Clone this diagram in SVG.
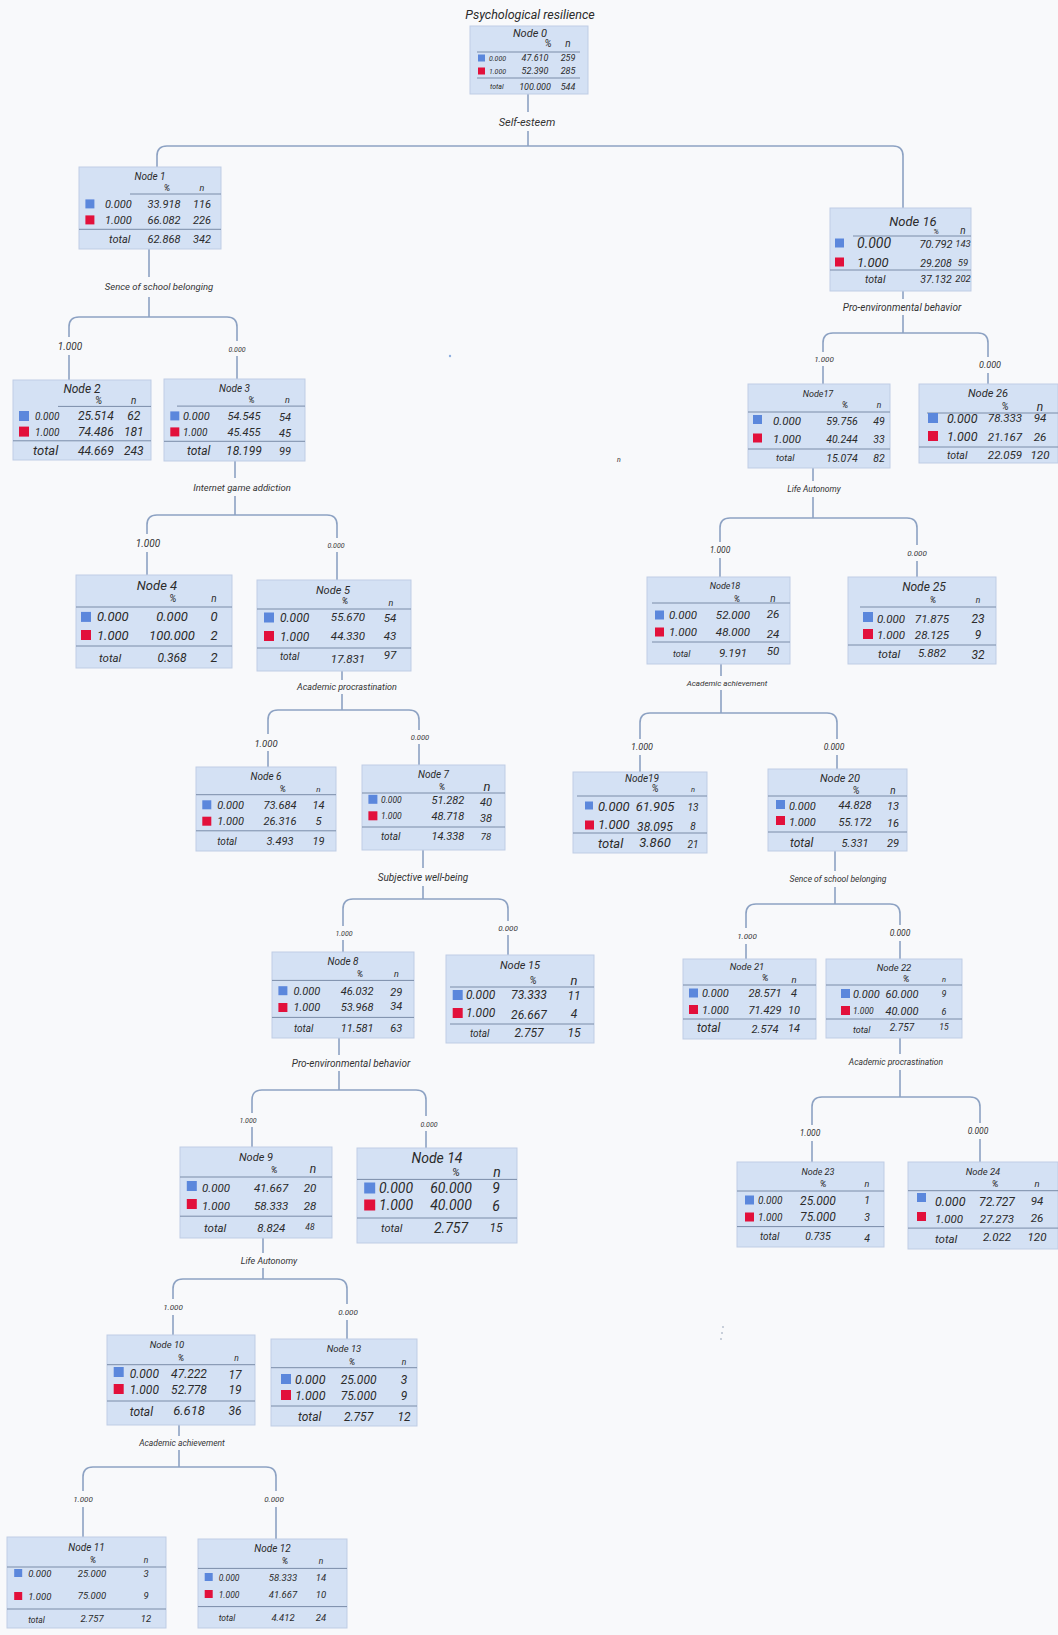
<svg xmlns="http://www.w3.org/2000/svg" width="1058" height="1635" viewBox="0 0 1058 1635">
<style>
text{font-family:Roboto,"Noto Sans","DejaVu Sans",sans-serif;font-style:italic;fill:#2b2b2b}
.m{text-anchor:middle}
.box{fill:#d4e1f4;stroke:#bfcde5;stroke-width:1}
.sep{stroke:#7a8ca8;stroke-width:1}
.conn{fill:none;stroke:#8da2c3;stroke-width:1.6}
.b0{fill:#5b87dc}
.b1{fill:#e2103b}
.lab{fill:#333}
</style>
<rect width="1058" height="1635" fill="#f8f9fb"/>
<text class="m" x="530" y="19" font-size="12.5">Psychological resilience</text>

<g id="connectors">
<path class="conn" d="M528 94 V112 M528 131 V146 M157 167 V156 Q157 146 167 146 H893 Q903 146 903 156 V208"/>
<path class="conn" d="M149 249 V277 M149 297 V317 M69 337 V327 Q69 317 79 317 H227 Q237 317 237 327 V341 M69 355 V380 M237 356 V379"/>
<path class="conn" d="M235 461 V478 M235 496 V515 M147 534 V525 Q147 515 157 515 H327 Q337 515 337 525 V538 M147 552 V575 M337 552 V580"/>
<path class="conn" d="M342 671 V680 M342 694 V710 M268 734 V720 Q268 710 278 710 H409 Q419 710 419 720 V730 M268 751 V767 M419 744 V765"/>
<path class="conn" d="M423 850 V868 M423 886 V899 M343 926 V909 Q343 899 353 899 H498 Q508 899 508 909 V921 M343 940 V952 M508 935 V955"/>
<path class="conn" d="M339 1038 V1055 M339 1071 V1090 M252 1113 V1100 Q252 1090 262 1090 H416 Q426 1090 426 1100 V1116 M252 1127 V1147 M426 1131 V1148"/>
<path class="conn" d="M263 1238 V1253 M263 1268 V1279 M173 1299 V1289 Q173 1279 183 1279 H337 Q347 1279 347 1289 V1304 M173 1315 V1335 M347 1320 V1339"/>
<path class="conn" d="M179 1425 V1436 M179 1450 V1467 M83 1491 V1477 Q83 1467 93 1467 H266 Q276 1467 276 1477 V1491 M83 1507 V1537 M276 1507 V1539"/>
<path class="conn" d="M903 291 V299 M903 315 V333 M823 352 V343 Q823 333 833 333 H978 Q988 333 988 343 V357 M823 366 V384 M988 373 V384"/>
<path class="conn" d="M813 468 V481 M813 497 V518 M720 542 V528 Q720 518 730 518 H907 Q917 518 917 528 V545 M720 558 V577 M917 561 V577"/>
<path class="conn" d="M721 664 V676 M721 690 V713 M640 739 V723 Q640 713 650 713 H827 Q837 713 837 723 V739 M640 755 V772 M837 755 V769"/>
<path class="conn" d="M835 851 V871 M835 887 V904 M746 928 V914 Q746 904 756 904 H890 Q900 904 900 914 V925 M746 944 V959 M900 941 V959"/>
<path class="conn" d="M900 1038 V1054 M900 1070 V1097 M812 1125 V1107 Q812 1097 822 1097 H970 Q980 1097 980 1107 V1123 M812 1141 V1162 M980 1139 V1162"/>
<text class="m lab" x="527" y="126" font-size="11">Self-esteem</text>
<text class="m lab" x="159" y="290" font-size="9.5">Sence of school belonging</text>
<text class="m lab" x="70" y="349.5" font-size="10">1.000</text>
<text class="m lab" x="237" y="351.5" font-size="7">0.000</text>
<text class="m lab" x="242" y="490.5" font-size="9.5">Internet game addiction</text>
<text class="m lab" x="148" y="546.5" font-size="10">1.000</text>
<text class="m lab" x="336" y="547.5" font-size="7">0.000</text>
<text class="m lab" x="347" y="690" font-size="9">Academic procrastination</text>
<text class="m lab" x="266" y="746.5" font-size="9.5">1.000</text>
<text class="m lab" x="420" y="739.5" font-size="7.5">0.000</text>
<text class="m lab" x="423" y="880.5" font-size="10">Subjective well-being</text>
<text class="m lab" x="344" y="935.5" font-size="7">1.000</text>
<text class="m lab" x="508" y="931" font-size="8">0.000</text>
<text class="m lab" x="351" y="1066.5" font-size="10">Pro-environmental behavior</text>
<text class="m lab" x="248" y="1122.5" font-size="7">1.000</text>
<text class="m lab" x="429" y="1126.5" font-size="7">0.000</text>
<text class="m lab" x="269" y="1264" font-size="9">Life Autonomy</text>
<text class="m lab" x="173" y="1310" font-size="8">1.000</text>
<text class="m lab" x="348" y="1315" font-size="8">0.000</text>
<text class="m lab" x="182" y="1446" font-size="8.5">Academic achievement</text>
<text class="m lab" x="83" y="1502" font-size="8">1.000</text>
<text class="m lab" x="274" y="1502" font-size="8">0.000</text>
<text class="m lab" x="902" y="310.5" font-size="10">Pro-environmental behavior</text>
<text class="m lab" x="824" y="362" font-size="8">1.000</text>
<text class="m lab" x="990" y="368" font-size="9">0.000</text>
<text class="m lab" x="814" y="492" font-size="8.5">Life Autonomy</text>
<text class="m lab" x="720" y="553" font-size="8.5">1.000</text>
<text class="m lab" x="917" y="556" font-size="8">0.000</text>
<text class="m lab" x="727" y="686" font-size="8">Academic achievement</text>
<text class="m lab" x="642" y="750" font-size="9">1.000</text>
<text class="m lab" x="834" y="750" font-size="8.5">0.000</text>
<text class="m lab" x="838" y="882" font-size="8.5">Sence of school belonging</text>
<text class="m lab" x="747" y="939" font-size="8">1.000</text>
<text class="m lab" x="900" y="936" font-size="8.5">0.000</text>
<text class="m lab" x="896" y="1065" font-size="8.5">Academic procrastination</text>
<text class="m lab" x="810" y="1136" font-size="8.5">1.000</text>
<text class="m lab" x="978" y="1134" font-size="8.5">0.000</text>
</g>

<g id="node0" transform="translate(470,26)" font-size="9">
<rect class="box" width="118" height="68"/>
<text class="m" x="60" y="11" font-size="11">Node 0</text>
<text class="m" x="78" y="21" font-size="10">%</text>
<text class="m" x="98" y="21" font-size="10">n</text>
<line class="sep" x1="7" y1="26" x2="110" y2="26"/>
<rect class="b0" x="8" y="28.5" width="7" height="7"/>
<text x="19" y="35" font-size="7">0.000</text>
<text class="m" x="65" y="35">47.610</text>
<text class="m" x="98" y="35">259</text>
<rect class="b1" x="8" y="41.5" width="7" height="7"/>
<text x="19" y="48" font-size="7">1.000</text>
<text class="m" x="65" y="48">52.390</text>
<text class="m" x="98" y="48">285</text>
<line class="sep" x1="7" y1="52" x2="110" y2="52"/>
<text x="20" y="63" font-size="7">total</text>
<text class="m" x="65" y="64">100.000</text>
<text class="m" x="98" y="64">544</text>
</g>

<g id="node1" transform="translate(79,167)" font-size="11">
<rect class="box" width="142" height="82"/>
<text class="m" x="71" y="12.5" font-size="10">Node 1</text>
<text class="m" x="88" y="24" font-size="9">%</text>
<text class="m" x="123" y="24" font-size="9">n</text>
<line class="sep" x1="51" y1="27" x2="142" y2="27"/>
<rect class="b0" x="6.4" y="32.4" width="9" height="9"/>
<text x="26" y="40.8">0.000</text>
<text class="m" x="85" y="40.8">33.918</text>
<text class="m" x="123" y="40.8">116</text>
<rect class="b1" x="6.4" y="48.4" width="9" height="9"/>
<text x="26" y="56.8">1.000</text>
<text class="m" x="85" y="56.8">66.082</text>
<text class="m" x="123" y="56.8">226</text>
<line class="sep" x1="0" y1="62.3" x2="142" y2="62.3"/>
<text x="30" y="76.4">total</text>
<text class="m" x="85" y="76.4">62.868</text>
<text class="m" x="123" y="76.4">342</text>
</g>

<g id="node2" transform="translate(13,380)" font-size="12">
<rect class="box" width="138" height="80"/>
<text class="m" x="69" y="13" font-size="12">Node 2</text>
<text class="m" x="85.6" y="23.8" font-size="10">%</text>
<text class="m" x="120.8" y="23.8" font-size="10">n</text>
<line class="sep" x1="45" y1="26.4" x2="138" y2="26.4"/>
<rect class="b0" x="6" y="31" width="10" height="10"/>
<text x="22" y="40.2" font-size="10">0.000</text>
<text class="m" x="82.8" y="40.2">25.514</text>
<text class="m" x="120.8" y="40.2">62</text>
<rect class="b1" x="6" y="46.6" width="10" height="10"/>
<text x="22" y="55.8" font-size="10">1.000</text>
<text class="m" x="82.8" y="55.8">74.486</text>
<text class="m" x="120.8" y="55.8">181</text>
<line class="sep" x1="0" y1="60.8" x2="138" y2="60.8"/>
<text x="20" y="75" font-size="13">total</text>
<text class="m" x="82.8" y="75">44.669</text>
<text class="m" x="120.8" y="75">243</text>
</g>

<g id="node3" transform="translate(164,379)" font-size="11">
<rect class="box" width="141" height="82"/>
<text class="m" x="70.5" y="12.5" font-size="10">Node 3</text>
<text class="m" x="87.4" y="24" font-size="9">%</text>
<text class="m" x="123.4" y="24" font-size="9">n</text>
<line class="sep" x1="13" y1="27.1" x2="141" y2="27.1"/>
<rect class="b0" x="6.3" y="32.4" width="9" height="9"/>
<text x="19" y="40.8">0.000</text>
<text class="m" x="80" y="40.8">54.545</text>
<text class="m" x="121" y="42">54</text>
<rect class="b1" x="6.3" y="48.4" width="9" height="9"/>
<text x="19" y="56.8" font-size="10">1.000</text>
<text class="m" x="80" y="56.8">45.455</text>
<text class="m" x="121" y="58">45</text>
<line class="sep" x1="0" y1="62.3" x2="141" y2="62.3"/>
<text x="23" y="76.4" font-size="12">total</text>
<text class="m" x="80" y="76.4" font-size="12">18.199</text>
<text class="m" x="121" y="76.4">99</text>
</g>

<g id="node4" transform="translate(76,575)" font-size="13">
<rect class="box" width="156" height="93"/>
<text class="m" x="81" y="14.8" font-size="13">Node 4</text>
<text class="m" x="96.7" y="27.4" font-size="10">%</text>
<text class="m" x="138" y="27.4" font-size="10">n</text>
<line class="sep" x1="0" y1="32" x2="156" y2="32"/>
<rect class="b0" x="5" y="36.9" width="10" height="10"/>
<text x="21" y="46.4">0.000</text>
<text class="m" x="96" y="46.4">0.000</text>
<text class="m" x="138" y="46.4">0</text>
<rect class="b1" x="5" y="55" width="10" height="10"/>
<text x="21" y="64.5">1.000</text>
<text class="m" x="96" y="64.5">100.000</text>
<text class="m" x="138" y="64.5">2</text>
<line class="sep" x1="0" y1="71" x2="156" y2="71"/>
<text x="23" y="86.9" font-size="11.5">total</text>
<text class="m" x="96" y="86.9" font-size="12">0.368</text>
<text class="m" x="138" y="86.9">2</text>
</g>

<g id="node5" transform="translate(257,580)" font-size="11.5">
<rect class="box" width="154" height="91"/>
<text class="m" x="76" y="13.9" font-size="11">Node 5</text>
<text class="m" x="88" y="24" font-size="9">%</text>
<text class="m" x="134" y="26.3" font-size="9">n</text>
<line class="sep" x1="0" y1="29" x2="154" y2="29"/>
<rect class="b0" x="7" y="32.5" width="10" height="10"/>
<text x="23" y="41.5" font-size="12">0.000</text>
<text class="m" x="91" y="41">55.670</text>
<text class="m" x="133" y="42">54</text>
<rect class="b1" x="7" y="51" width="10" height="10"/>
<text x="23" y="60.5" font-size="12">1.000</text>
<text class="m" x="91" y="60">44.330</text>
<text class="m" x="133" y="60">43</text>
<line class="sep" x1="0" y1="68" x2="154" y2="68"/>
<text x="23" y="80" font-size="10">total</text>
<text class="m" x="91" y="83">17.831</text>
<text class="m" x="133" y="79">97</text>
</g>

<g id="node6" transform="translate(196,767)" font-size="11">
<rect class="box" width="140" height="84"/>
<text class="m" x="70" y="12.7" font-size="10">Node 6</text>
<text class="m" x="86.8" y="24.5" font-size="9">%</text>
<text class="m" x="122.5" y="24.5" font-size="8">n</text>
<line class="sep" x1="0" y1="27.7" x2="140" y2="27.7"/>
<rect class="b0" x="6.3" y="33.3" width="9" height="9"/>
<text x="21.3" y="41.7">0.000</text>
<text class="m" x="84" y="41.7">73.684</text>
<text class="m" x="122.5" y="41.7">14</text>
<rect class="b1" x="6.3" y="49.7" width="9" height="9"/>
<text x="21.3" y="58.1">1.000</text>
<text class="m" x="84" y="58.1">26.316</text>
<text class="m" x="122.5" y="58.1">5</text>
<line class="sep" x1="0" y1="63.8" x2="140" y2="63.8"/>
<text x="21.3" y="78.2" font-size="10">total</text>
<text class="m" x="84" y="78.2">3.493</text>
<text class="m" x="122.5" y="78.2">19</text>
</g>

<g id="node7" transform="translate(362,765)" font-size="11">
<rect class="box" width="143" height="85"/>
<text class="m" x="71.5" y="12.9" font-size="10">Node 7</text>
<text class="m" x="80" y="24.7" font-size="9">%</text>
<text class="m" x="125" y="26" font-size="13">n</text>
<line class="sep" x1="0" y1="28" x2="143" y2="28"/>
<rect class="b0" x="6.4" y="29.8" width="9" height="9"/>
<text x="19" y="37.5" font-size="8.5">0.000</text>
<text class="m" x="85.8" y="38.5">51.282</text>
<text class="m" x="124" y="40.5">40</text>
<rect class="b1" x="6.4" y="46.3" width="9" height="9"/>
<text x="19" y="54" font-size="8.5">1.000</text>
<text class="m" x="85.8" y="55">48.718</text>
<text class="m" x="124" y="57">38</text>
<line class="sep" x1="0" y1="62" x2="143" y2="62"/>
<text x="19" y="75" font-size="10">total</text>
<text class="m" x="85.8" y="75">14.338</text>
<text class="m" x="124" y="75" font-size="9.5">78</text>
</g>

<g id="node8" transform="translate(272,952)" font-size="11">
<rect class="box" width="142" height="86"/>
<text class="m" x="71" y="13" font-size="10">Node 8</text>
<text class="m" x="88" y="25" font-size="9">%</text>
<text class="m" x="124.3" y="25" font-size="9">n</text>
<line class="sep" x1="0" y1="28.4" x2="142" y2="28.4"/>
<rect class="b0" x="6.4" y="34.2" width="9" height="9"/>
<text x="21.4" y="42.6">0.000</text>
<text class="m" x="85.2" y="42.6">46.032</text>
<text class="m" x="124.3" y="43.6">29</text>
<rect class="b1" x="6.4" y="51" width="9" height="9"/>
<text x="21.4" y="59.4">1.000</text>
<text class="m" x="85.2" y="59.4">53.968</text>
<text class="m" x="124.3" y="58.4">34</text>
<line class="sep" x1="0" y1="65.4" x2="142" y2="65.4"/>
<text x="22" y="80" font-size="10">total</text>
<text class="m" x="85.2" y="80">11.581</text>
<text class="m" x="124.3" y="80">63</text>
</g>

<g id="node9" transform="translate(180,1147)" font-size="11.5">
<rect class="box" width="152" height="91"/>
<text class="m" x="76" y="13.9" font-size="11">Node 9</text>
<text class="m" x="94.2" y="26.3" font-size="9.5">%</text>
<text class="m" x="133" y="26.3" font-size="12">n</text>
<line class="sep" x1="0" y1="30" x2="152" y2="30"/>
<rect class="b0" x="6.8" y="34" width="10" height="10"/>
<text x="22" y="45">0.000</text>
<text class="m" x="91.2" y="45">41.667</text>
<text class="m" x="130" y="45">20</text>
<rect class="b1" x="6.8" y="52" width="10" height="10"/>
<text x="22" y="62.7">1.000</text>
<text class="m" x="91.2" y="62.7">58.333</text>
<text class="m" x="130" y="62.7">28</text>
<line class="sep" x1="0" y1="69.2" x2="152" y2="69.2"/>
<text x="24" y="84.5">total</text>
<text class="m" x="91.2" y="84.5">8.824</text>
<text class="m" x="130" y="83" font-size="8.5">48</text>
</g>

<g id="node10" transform="translate(107,1335)" font-size="12">
<rect class="box" width="148" height="90"/>
<text class="m" x="60" y="13.2" font-size="9.5">Node 10</text>
<text class="m" x="74" y="26.3" font-size="9">%</text>
<text class="m" x="129.5" y="26.3" font-size="8.5">n</text>
<line class="sep" x1="0" y1="29.7" x2="148" y2="29.7"/>
<rect class="b0" x="6.7" y="32" width="10" height="10"/>
<text x="22.7" y="43">0.000</text>
<text class="m" x="82" y="42.5">47.222</text>
<text class="m" x="128" y="43.5">17</text>
<rect class="b1" x="6.7" y="49" width="10" height="10"/>
<text x="22.7" y="58.5">1.000</text>
<text class="m" x="82" y="58.5">52.778</text>
<text class="m" x="128" y="58.5">19</text>
<line class="sep" x1="0" y1="66" x2="148" y2="66"/>
<text x="22.7" y="81">total</text>
<text class="m" x="82" y="80" font-size="13">6.618</text>
<text class="m" x="128" y="80">36</text>
</g>

<g id="node11" transform="translate(7,1537)" font-size="9.5">
<rect class="box" width="159" height="91"/>
<text class="m" x="79.5" y="13.5" font-size="10">Node 11</text>
<text class="m" x="86" y="25.6" font-size="9">%</text>
<text class="m" x="139" y="25.6" font-size="8.5">n</text>
<line class="sep" x1="0" y1="30" x2="159" y2="30"/>
<rect class="b0" x="7.2" y="32" width="8" height="8"/>
<text x="21.2" y="39.5">0.000</text>
<text class="m" x="85" y="39.5">25.000</text>
<text class="m" x="139" y="39.5">3</text>
<rect class="b1" x="7.2" y="55" width="8" height="8"/>
<text x="21.2" y="62.5">1.000</text>
<text class="m" x="85" y="61.5">75.000</text>
<text class="m" x="139" y="62">9</text>
<line class="sep" x1="0" y1="72" x2="159" y2="72"/>
<text x="21.2" y="85.5" font-size="8.5">total</text>
<text class="m" x="85" y="85">2.757</text>
<text class="m" x="139" y="85">12</text>
</g>

<g id="node12" transform="translate(198,1539)" font-size="9.5">
<rect class="box" width="149" height="89"/>
<text class="m" x="74.5" y="13.3" font-size="10">Node 12</text>
<text class="m" x="87" y="25.1" font-size="9">%</text>
<text class="m" x="123" y="25.1" font-size="8.5">n</text>
<line class="sep" x1="0" y1="29.4" x2="149" y2="29.4"/>
<rect class="b0" x="6.7" y="34" width="8" height="8"/>
<text x="20.7" y="41.5" font-size="8.5">0.000</text>
<text class="m" x="85" y="41.5">58.333</text>
<text class="m" x="123" y="41.5">14</text>
<rect class="b1" x="6.7" y="51" width="8" height="8"/>
<text x="20.7" y="58.5" font-size="8.5">1.000</text>
<text class="m" x="85" y="58.5">41.667</text>
<text class="m" x="123" y="58.5">10</text>
<line class="sep" x1="0" y1="67.6" x2="149" y2="67.6"/>
<text x="20.7" y="82.1" font-size="8.5">total</text>
<text class="m" x="85" y="82.1">4.412</text>
<text class="m" x="123" y="82.1">24</text>
</g>

<g id="node13" transform="translate(271,1339)" font-size="12">
<rect class="box" width="146" height="87"/>
<text class="m" x="73" y="12.9" font-size="9.5">Node 13</text>
<text class="m" x="81" y="25.5" font-size="9">%</text>
<text class="m" x="133" y="25.5" font-size="8.5">n</text>
<line class="sep" x1="0" y1="28.7" x2="146" y2="28.7"/>
<rect class="b0" x="10" y="35" width="10" height="10"/>
<text x="24" y="44.5" font-size="12.5">0.000</text>
<text class="m" x="87.6" y="44.5">25.000</text>
<text class="m" x="133" y="44.5">3</text>
<rect class="b1" x="10" y="51" width="10" height="10"/>
<text x="24" y="60.5" font-size="12.5">1.000</text>
<text class="m" x="87.6" y="60.5">75.000</text>
<text class="m" x="133" y="61">9</text>
<line class="sep" x1="0" y1="67" x2="146" y2="67"/>
<text x="27" y="82">total</text>
<text class="m" x="87.6" y="82">2.757</text>
<text class="m" x="133" y="82">12</text>
</g>

<g id="node14" transform="translate(357,1148)" font-size="14">
<rect class="box" width="160" height="95"/>
<text class="m" x="80" y="15.4" font-size="14">Node 14</text>
<text class="m" x="99" y="28.2" font-size="11">%</text>
<text class="m" x="140" y="29" font-size="14">n</text>
<line class="sep" x1="0" y1="31.4" x2="160" y2="31.4"/>
<rect class="b0" x="7.2" y="34.5" width="11" height="11"/>
<text x="22" y="44.5">0.000</text>
<text class="m" x="94" y="44.5">60.000</text>
<text class="m" x="139" y="45">9</text>
<rect class="b1" x="7.2" y="51.5" width="11" height="11"/>
<text x="22" y="61.5">1.000</text>
<text class="m" x="94" y="61.5">40.000</text>
<text class="m" x="139" y="62.5">6</text>
<line class="sep" x1="0" y1="70" x2="160" y2="70"/>
<text x="24" y="84" font-size="11">total</text>
<text class="m" x="94" y="85">2.757</text>
<text class="m" x="139" y="84" font-size="12">15</text>
</g>

<g id="node15" transform="translate(446,955)" font-size="12">
<rect class="box" width="148" height="88"/>
<text class="m" x="74" y="13.6" font-size="11">Node 15</text>
<text class="m" x="87" y="29" font-size="10">%</text>
<text class="m" x="128" y="30" font-size="13">n</text>
<line class="sep" x1="4" y1="32" x2="148" y2="32"/>
<rect class="b0" x="6.7" y="35" width="10" height="10"/>
<text x="20" y="44">0.000</text>
<text class="m" x="83" y="44">73.333</text>
<text class="m" x="128" y="44.5">11</text>
<rect class="b1" x="6.7" y="53" width="10" height="10"/>
<text x="20" y="62">1.000</text>
<text class="m" x="83" y="64">26.667</text>
<text class="m" x="128" y="63">4</text>
<line class="sep" x1="4" y1="69" x2="148" y2="69"/>
<text x="24" y="82" font-size="10">total</text>
<text class="m" x="83" y="82">2.757</text>
<text class="m" x="128" y="82">15</text>
</g>

<g id="node16" transform="translate(830,208)" font-size="10.5">
<rect class="box" width="141" height="83"/>
<text class="m" x="83" y="18" font-size="13">Node 16</text>
<text class="m" x="106" y="26" font-size="8">%</text>
<text class="m" x="133" y="26" font-size="10">n</text>
<line class="sep" x1="23" y1="28" x2="141" y2="28"/>
<rect class="b0" x="5" y="30.5" width="9" height="9"/>
<text x="27" y="40" font-size="14">0.000</text>
<text class="m" x="106" y="39.5" font-size="11">70.792</text>
<text class="m" x="133" y="39" font-size="9.5">143</text>
<rect class="b1" x="5" y="49.5" width="9" height="9"/>
<text x="27" y="58.5" font-size="13">1.000</text>
<text class="m" x="106" y="58.5">29.208</text>
<text class="m" x="133" y="58" font-size="9.5">59</text>
<line class="sep" x1="0" y1="62" x2="141" y2="62"/>
<text x="35" y="74.5" font-size="10.5">total</text>
<text class="m" x="106" y="74.5">37.132</text>
<text class="m" x="133" y="73.5" font-size="9.5">202</text>
</g>

<g id="node17" transform="translate(748,384)" font-size="10.5">
<rect class="box" width="142" height="84"/>
<text class="m" x="70" y="12.5" font-size="9">Node17</text>
<text class="m" x="97" y="23.5" font-size="9">%</text>
<text class="m" x="131" y="23.5" font-size="8.5">n</text>
<line class="sep" x1="0" y1="28" x2="142" y2="28"/>
<rect class="b0" x="5" y="31" width="9" height="9"/>
<text x="25" y="40.5" font-size="11.5">0.000</text>
<text class="m" x="94" y="40.5">59.756</text>
<text class="m" x="131" y="40.5">49</text>
<rect class="b1" x="5" y="49.5" width="9" height="9"/>
<text x="25" y="58.5" font-size="11.5">1.000</text>
<text class="m" x="94" y="58.5">40.244</text>
<text class="m" x="131" y="58.5">33</text>
<line class="sep" x1="0" y1="65" x2="142" y2="65"/>
<text x="28" y="76.5" font-size="9.5">total</text>
<text class="m" x="94" y="77.5">15.074</text>
<text class="m" x="131" y="78">82</text>
</g>

<g id="node18" transform="translate(647,577)" font-size="11.5">
<rect class="box" width="143" height="87"/>
<text class="m" x="78" y="12" font-size="9">Node18</text>
<text class="m" x="90" y="25" font-size="9">%</text>
<text class="m" x="126" y="25" font-size="10">n</text>
<line class="sep" x1="5" y1="26" x2="143" y2="26"/>
<rect class="b0" x="8" y="33.5" width="9" height="9"/>
<text x="22" y="42">0.000</text>
<text class="m" x="86" y="42">52.000</text>
<text class="m" x="126" y="41">26</text>
<rect class="b1" x="8" y="50.5" width="9" height="9"/>
<text x="22" y="59">1.000</text>
<text class="m" x="86" y="59">48.000</text>
<text class="m" x="126" y="61">24</text>
<line class="sep" x1="5" y1="65" x2="143" y2="65"/>
<text x="26" y="80" font-size="9">total</text>
<text class="m" x="86" y="80">9.191</text>
<text class="m" x="126" y="78">50</text>
</g>

<g id="node19" transform="translate(573,772)" font-size="13">
<rect class="box" width="134" height="81"/>
<text class="m" x="69" y="10" font-size="10">Node19</text>
<text class="m" x="82" y="20" font-size="10">%</text>
<text class="m" x="120" y="20" font-size="7.5">n</text>
<line class="sep" x1="4" y1="24" x2="134" y2="24"/>
<rect class="b0" x="12" y="29.5" width="8" height="8"/>
<text x="25" y="38.5">0.000</text>
<text class="m" x="82" y="38.5">61.905</text>
<text class="m" x="120" y="38.5" font-size="10">13</text>
<rect class="b1" x="12" y="48.5" width="9" height="9"/>
<text x="25" y="57">1.000</text>
<text class="m" x="82" y="58.5" font-size="12">38.095</text>
<text class="m" x="120" y="57.5" font-size="10">8</text>
<line class="sep" x1="0" y1="61" x2="134" y2="61"/>
<text x="25" y="75.5">total</text>
<text class="m" x="82" y="75">3.860</text>
<text class="m" x="120" y="76" font-size="10">21</text>
</g>

<g id="node20" transform="translate(768,769)" font-size="11">
<rect class="box" width="139" height="82"/>
<text class="m" x="72" y="12.9" font-size="11">Node 20</text>
<text class="m" x="88" y="25" font-size="10">%</text>
<text class="m" x="125" y="25" font-size="10">n</text>
<line class="sep" x1="0" y1="27" x2="139" y2="27"/>
<rect class="b0" x="8" y="31" width="9" height="9"/>
<text x="21" y="40.5">0.000</text>
<text class="m" x="87" y="40">44.828</text>
<text class="m" x="125" y="40.5">13</text>
<rect class="b1" x="8" y="47" width="9" height="9"/>
<text x="21" y="57">1.000</text>
<text class="m" x="87" y="57">55.172</text>
<text class="m" x="125" y="58">16</text>
<line class="sep" x1="0" y1="63" x2="139" y2="63"/>
<text x="22" y="77.5" font-size="12">total</text>
<text class="m" x="87" y="77.5">5.331</text>
<text class="m" x="125" y="77.5">29</text>
</g>

<g id="node21" transform="translate(683,959)" font-size="11">
<rect class="box" width="133" height="80"/>
<text class="m" x="64" y="11" font-size="9.5">Node 21</text>
<text class="m" x="82" y="22" font-size="9.5">%</text>
<text class="m" x="111" y="23.5" font-size="9.5">n</text>
<line class="sep" x1="0" y1="26" x2="133" y2="26"/>
<rect class="b0" x="6" y="29.5" width="9" height="9"/>
<text x="19" y="38">0.000</text>
<text class="m" x="82" y="38">28.571</text>
<text class="m" x="111" y="38">4</text>
<rect class="b1" x="6" y="46" width="9" height="9"/>
<text x="19" y="55">1.000</text>
<text class="m" x="82" y="55">71.429</text>
<text class="m" x="111" y="55">10</text>
<line class="sep" x1="0" y1="60" x2="133" y2="60"/>
<text x="14" y="72.5" font-size="12">total</text>
<text class="m" x="82" y="74">2.574</text>
<text class="m" x="111" y="73">14</text>
</g>

<g id="node22" transform="translate(826,959)" font-size="10">
<rect class="box" width="136" height="79"/>
<text class="m" x="68" y="12" font-size="9.5">Node 22</text>
<text class="m" x="80" y="23" font-size="9.5">%</text>
<text class="m" x="118" y="23" font-size="7.5">n</text>
<line class="sep" x1="0" y1="26" x2="136" y2="26"/>
<rect class="b0" x="15" y="30" width="9" height="9"/>
<text x="27" y="38.5" font-size="11">0.000</text>
<text class="m" x="76" y="38.5" font-size="11">60.000</text>
<text class="m" x="118" y="37.5" font-size="9">9</text>
<rect class="b1" x="15" y="47" width="9" height="9"/>
<text x="27" y="55" font-size="8.5">1.000</text>
<text class="m" x="76" y="55.5" font-size="11">40.000</text>
<text class="m" x="118" y="56" font-size="9">6</text>
<line class="sep" x1="0" y1="60" x2="136" y2="60"/>
<text x="27" y="73.5" font-size="9">total</text>
<text class="m" x="76" y="71.5">2.757</text>
<text class="m" x="118" y="71" font-size="8.5">15</text>
</g>

<g id="node23" transform="translate(737,1162)" font-size="10.5">
<rect class="box" width="147" height="85"/>
<text class="m" x="81" y="12.5" font-size="9">Node 23</text>
<text class="m" x="86" y="24.5" font-size="9.5">%</text>
<text class="m" x="130" y="24.5" font-size="9">n</text>
<line class="sep" x1="0" y1="29" x2="147" y2="29"/>
<rect class="b0" x="8" y="33.5" width="9" height="9"/>
<text x="21" y="42" font-size="10">0.000</text>
<text class="m" x="81" y="42.5" font-size="12">25.000</text>
<text class="m" x="130" y="42">1</text>
<rect class="b1" x="8" y="50.5" width="9" height="9"/>
<text x="21" y="58.5" font-size="10">1.000</text>
<text class="m" x="81" y="59" font-size="12">75.000</text>
<text class="m" x="130" y="59">3</text>
<line class="sep" x1="0" y1="64.6" x2="147" y2="64.6"/>
<text x="23" y="78" font-size="10">total</text>
<text class="m" x="81" y="77.5">0.735</text>
<text class="m" x="130" y="80">4</text>
</g>

<g id="node24" transform="translate(908,1162)" font-size="11.5">
<rect class="box" width="150" height="87"/>
<text class="m" x="75" y="12.9" font-size="9.5">Node 24</text>
<text class="m" x="87" y="25.3" font-size="9.5">%</text>
<text class="m" x="129" y="25.3" font-size="9.5">n</text>
<line class="sep" x1="0" y1="28.7" x2="150" y2="28.7"/>
<rect class="b0" x="9" y="31" width="9" height="9"/>
<text x="27" y="43.5" font-size="12.5">0.000</text>
<text class="m" x="89" y="43.5" font-size="12">72.727</text>
<text class="m" x="129" y="43">94</text>
<rect class="b1" x="9" y="50" width="9" height="9"/>
<text x="27" y="60.5">1.000</text>
<text class="m" x="89" y="61">27.273</text>
<text class="m" x="129" y="60">26</text>
<line class="sep" x1="0" y1="66.1" x2="150" y2="66.1"/>
<text x="27" y="81">total</text>
<text class="m" x="89" y="79">2.022</text>
<text class="m" x="129" y="79">120</text>
</g>

<g id="node25" transform="translate(848,577)" font-size="11.5">
<rect class="box" width="148" height="87"/>
<text class="m" x="76" y="13.8" font-size="12">Node 25</text>
<text class="m" x="85" y="26" font-size="9">%</text>
<text class="m" x="130" y="26" font-size="8.5">n</text>
<line class="sep" x1="12" y1="30" x2="148" y2="30"/>
<rect class="b0" x="15" y="35" width="10" height="10"/>
<text x="29" y="45.5">0.000</text>
<text class="m" x="84" y="45.5">71.875</text>
<text class="m" x="130" y="45.5" font-size="12">23</text>
<rect class="b1" x="15" y="52" width="10" height="10"/>
<text x="29" y="61.5">1.000</text>
<text class="m" x="84" y="61.5">28.125</text>
<text class="m" x="130" y="61.5" font-size="12">9</text>
<line class="sep" x1="0" y1="68" x2="148" y2="68"/>
<text x="30" y="80.5">total</text>
<text class="m" x="84" y="80">5.882</text>
<text class="m" x="130" y="82" font-size="12">32</text>
</g>

<g id="node26" transform="translate(919,384)" font-size="11.5">
<rect class="box" width="139" height="79"/>
<text class="m" x="69" y="13" font-size="11">Node 26</text>
<text class="m" x="86" y="26" font-size="10">%</text>
<text class="m" x="121" y="27" font-size="12">n</text>
<line class="sep" x1="8" y1="29" x2="139" y2="29"/>
<rect class="b0" x="9" y="29" width="10" height="10"/>
<text x="28" y="39" font-size="12.5">0.000</text>
<text class="m" x="86" y="38">78.333</text>
<text class="m" x="121" y="38">94</text>
<rect class="b1" x="9" y="47" width="10" height="10"/>
<text x="28" y="57" font-size="12.5">1.000</text>
<text class="m" x="86" y="57">21.167</text>
<text class="m" x="121" y="57">26</text>
<line class="sep" x1="0" y1="63" x2="139" y2="63"/>
<text x="28" y="75" font-size="10.5">total</text>
<text class="m" x="86" y="75">22.059</text>
<text class="m" x="121" y="75">120</text>
</g>

<circle cx="450" cy="356" r="1.2" fill="#8fb0e0"/>
<text x="617" y="462" font-size="7" fill="#999">n</text>
<circle cx="723" cy="1327" r="0.8" fill="#8c9ab0"/>
<circle cx="722" cy="1333" r="0.8" fill="#8c9ab0"/>
<circle cx="721" cy="1339" r="0.8" fill="#8c9ab0"/>
</svg>
